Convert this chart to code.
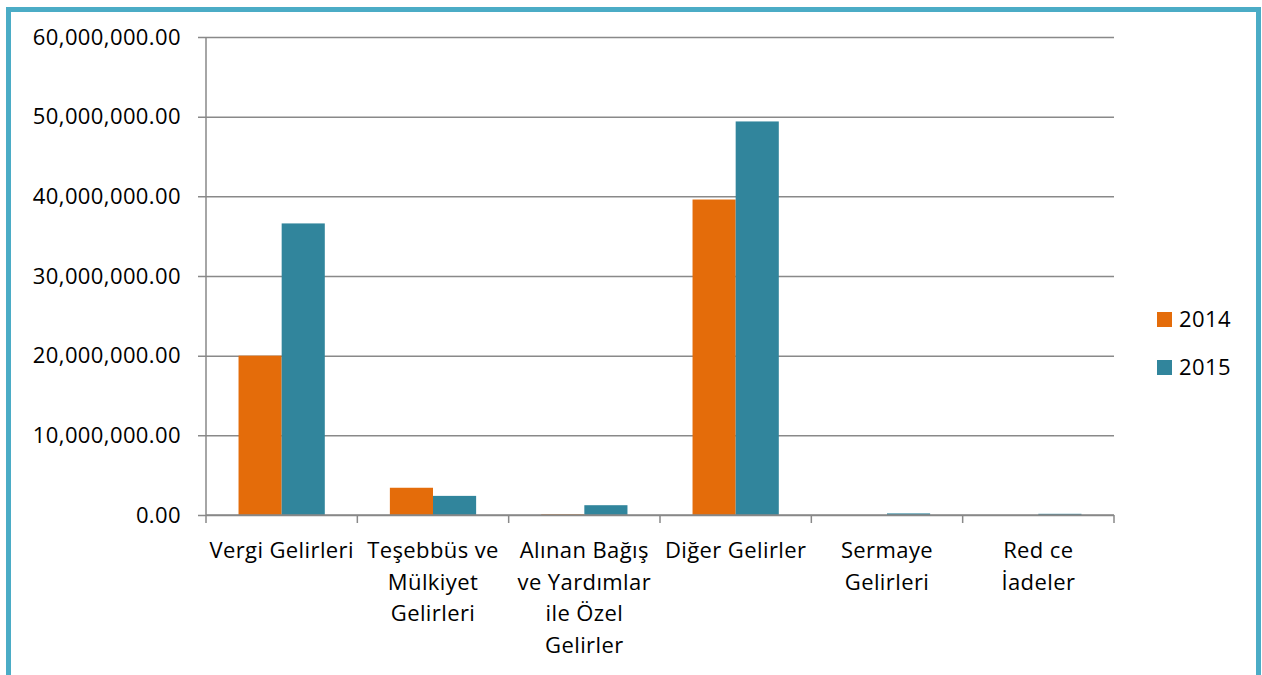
<!DOCTYPE html>
<html>
<head>
<meta charset="utf-8">
<script src="https://cdn.jsdelivr.net/npm/d3@7"></script>
<style>
  body { margin: 0; background: #fff; }
  svg { display: block; }
  svg text { font-family: 'Open Sans', Lato, sans-serif; font-size: 22px; letter-spacing: 0.4px; }
</style>
</head>
<body>
<div id="chart"></div>
<script>
// data
const categories = [
  'Vergi Gelirleri',
  'Teşebbüs ve Mülkiyet Gelirleri',
  'Alınan Bağış ve Yardımlar ile Özel Gelirler',
  'Diğer Gelirler',
  'Sermaye Gelirleri',
  'Red ce İadeler'
]
const categoryLines = [
  ['Vergi Gelirleri'],
  ['Teşebbüs ve', 'Mülkiyet', 'Gelirleri'],
  ['Alınan Bağış', 've Yardımlar', 'ile Özel', 'Gelirler'],
  ['Diğer Gelirler'],
  ['Sermaye', 'Gelirleri'],
  ['Red ce', 'İadeler']
]
const years = ['2014', '2015']
const values2014 = [20000000, 3420000, 80000, 39600000, 0, 0]
const values2015 = [36600000, 2400000, 1230000, 49400000, 200000, 150000]
const yTicks = [0, 10000000, 20000000, 30000000, 40000000, 50000000, 60000000]
const colors = ['#E46C0A', '#31859C']

const W = 1262
const H = 675
const margin = { top: 37, left: 206, right: 148, bottom: 160 }
const width = W - margin.left - margin.right
const height = H - margin.top - margin.bottom

const svg = d3
  .select('#chart')
  .append('svg')
  .attr('width', W)
  .attr('height', H)

// outer frame (no bottom edge visible)
svg
  .append('path')
  .attr('d', 'M8.5,' + H + ' V9.5 H1258.5 V' + H)
  .attr('fill', 'none')
  .attr('stroke', '#4BACC6')
  .attr('stroke-width', 5)

const g = svg
  .append('g')
  .attr('transform', 'translate(' + margin.left + ',' + margin.top + ')')

const xScale = d3
  .scaleBand()
  .domain(categories)
  .range([0, width])
  .paddingInner(0.43)
  .paddingOuter(0.215)

const yearScale = d3
  .scaleBand()
  .domain(years)
  .range([0, xScale.bandwidth()])

const yScale = d3
  .scaleLinear()
  .domain([0, 60000000])
  .range([height, 0])

// gridlines + y labels
const fmt = d3.format(',.2f')
const yAxis = d3
  .axisLeft(yScale)
  .tickValues(yTicks)
  .tickSize(-width)
  .tickFormat(fmt)

const yG = g.append('g').attr('class', 'y-axis').call(yAxis)
yG.select('.domain').remove()
yG.selectAll('.tick line')
  .attr('stroke', '#898989')
  .attr('stroke-width', 1.5)
  .attr('x1', -8)
yG.selectAll('.tick text')
  .attr('x', -25)
  .attr('fill', '#000')

// y axis line
g.append('line')
  .attr('x1', 0)
  .attr('x2', 0)
  .attr('y1', 0)
  .attr('y2', height)
  .attr('stroke', '#898989')
  .attr('stroke-width', 1.5)

// bars
const series = [values2014, values2015]
series.forEach(function(vals, i) {
  g.append('g')
    .selectAll('rect')
    .data(vals)
    .enter()
    .append('rect')
    .attr('x', function(d, j) {
      return xScale(categories[j]) + yearScale(years[i])
    })
    .attr('width', yearScale.bandwidth())
    .attr('y', function(d) {
      return yScale(d)
    })
    .attr('height', function(d) {
      return height - yScale(d)
    })
    .attr('fill', colors[i])
})

// x axis line + ticks between categories
const step = xScale.step()
g.append('line')
  .attr('x1', 0)
  .attr('x2', width)
  .attr('y1', height)
  .attr('y2', height)
  .attr('stroke', '#898989')
  .attr('stroke-width', 1.5)

g.selectAll('.xtick')
  .data(d3.range(categories.length + 1))
  .enter()
  .append('line')
  .attr('class', 'xtick')
  .attr('x1', function(d) {
    return d * step
  })
  .attr('x2', function(d) {
    return d * step
  })
  .attr('y1', height)
  .attr('y2', height + 8)
  .attr('stroke', '#898989')
  .attr('stroke-width', 1.5)

// category labels
const labels = g
  .selectAll('.xlabel')
  .data(categories)
  .enter()
  .append('text')
  .attr('class', 'xlabel')
  .attr('text-anchor', 'middle')
  .attr('fill', '#000')
  .attr('transform', function(d) {
    return 'translate(' + (xScale(d) + xScale.bandwidth() / 2) + ',' + (height + 43) + ')'
  })

labels
  .selectAll('tspan')
  .data(function(d, i) {
    return categoryLines[i]
  })
  .enter()
  .append('tspan')
  .attr('x', 0)
  .attr('y', function(d, i) {
    return i * 31.5
  })
  .text(function(d) {
    return d
  })

// legend
const legend = svg
  .append('g')
  .attr('transform', 'translate(1157,312)')

const items = legend
  .selectAll('.legend-item')
  .data(years)
  .enter()
  .append('g')
  .attr('class', 'legend-item')
  .attr('transform', function(d, i) {
    return 'translate(0,' + i * 48 + ')'
  })

items
  .append('rect')
  .attr('width', 15)
  .attr('height', 15)
  .attr('fill', function(d, i) {
    return colors[i]
  })

items
  .append('text')
  .attr('x', 22)
  .attr('y', 15)
  .attr('fill', '#000')
  .text(function(d) {
    return d
  })
</script>
</body>
</html>
